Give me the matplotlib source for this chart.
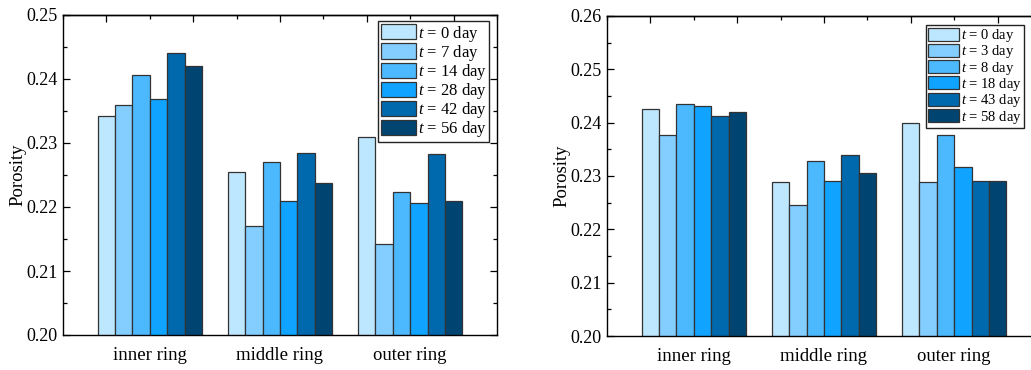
import matplotlib
matplotlib.use("Agg")
import matplotlib.pyplot as plt
from matplotlib.ticker import MultipleLocator
import numpy as np

plt.rcParams['font.family'] = ['Liberation Serif', 'DejaVu Serif']
plt.rcParams['mathtext.fontset'] = 'custom'
plt.rcParams['mathtext.rm'] = 'Liberation Serif'
plt.rcParams['mathtext.it'] = 'Liberation Serif:italic'

categories = ['inner ring', 'middle ring', 'outer ring']

left_labels = ['0', '7', '14', '28', '42', '56']
left_values = [
    [0.2342, 0.2254, 0.2309],   # t = 0
    [0.2359, 0.2170, 0.2142],   # t = 7
    [0.2407, 0.2270, 0.2223],   # t = 14
    [0.2369, 0.2210, 0.2207],   # t = 28
    [0.2441, 0.2284, 0.2283],   # t = 42
    [0.2421, 0.2237, 0.2209],   # t = 56
]

right_labels = ['0', '3', '8', '18', '43', '58']
right_values = [
    [0.2425, 0.2288, 0.2399],   # t = 0
    [0.2377, 0.2245, 0.2288],   # t = 3
    [0.2435, 0.2329, 0.2377],   # t = 8
    [0.2431, 0.2290, 0.2317],   # t = 18
    [0.2413, 0.2340, 0.2290],   # t = 43
    [0.2420, 0.2306, 0.2291],   # t = 58
]

colors = ['#bde6ff', '#84cdff', '#4cb9ff', '#10a3ff', '#0068ac', '#004572']

W, H = 1031, 370
fig = plt.figure(figsize=(W / 100, H / 100), dpi=100)

def px_axes(x0, y_top, w, h):
    return fig.add_axes([x0 / W, (H - y_top - h) / H, w / W, h / H])

ax1 = px_axes(63, 15, 434, 320)
ax2 = px_axes(607, 16, 434, 320)

def draw(ax, values, labels, ylim, leg_anchor, leg_fs, leg_hl, leg_hh, leg_ls, ylabelpad):
    x = np.arange(1, len(categories) + 1)
    n = len(values)
    w = 0.8 / n
    for i, (vals, lab) in enumerate(zip(values, labels)):
        ax.bar(x + (i - (n - 1) / 2) * w, vals, width=w, color=colors[i],
               edgecolor='#333333', linewidth=0.9, label=f'$t$ = {lab} day', zorder=2)
    ax.set_xlim(1 / 3, 11 / 3)
    ax.set_ylim(*ylim)
    ax.set_xticks(x)
    ax.set_xticklabels(categories, fontsize=13.5)
    ax.tick_params(axis='x', which='both', bottom=False, top=False, pad=5)
    ax.yaxis.set_major_locator(MultipleLocator(0.01))
    ax.yaxis.set_minor_locator(MultipleLocator(0.005))
    ax.yaxis.set_major_formatter(matplotlib.ticker.FormatStrFormatter('%.2f'))
    ax.tick_params(axis='y', which='major', direction='in', left=True, right=True,
                   length=5, width=0.9, labelsize=13, pad=4)
    ax.tick_params(axis='y', which='minor', direction='in', left=True, right=True,
                   length=3, width=0.9)
    sec = ax.secondary_xaxis('top')
    sec.xaxis.set_major_locator(MultipleLocator(2 / 3))
    sec.xaxis.set_minor_locator(MultipleLocator(1 / 3))
    sec.tick_params(axis='x', which='major', direction='in', length=5, width=0.9, labeltop=False)
    sec.tick_params(axis='x', which='minor', direction='in', length=3, width=0.9)
    sec.set_xticklabels([])
    sec.spines['top'].set_linewidth(1.0)
    for s in ax.spines.values():
        s.set_linewidth(1.0)
    ax.set_ylabel('Porosity', fontsize=13.5, labelpad=ylabelpad)
    leg = ax.legend(loc='upper right', bbox_to_anchor=leg_anchor, borderaxespad=0,
                    fontsize=leg_fs, handlelength=leg_hl, handleheight=leg_hh,
                    labelspacing=leg_ls, handletextpad=0.12, borderpad=0.15,
                    fancybox=False, framealpha=1, edgecolor='#222222')
    leg.get_frame().set_linewidth(1.0)

draw(ax1, left_values, left_labels, (0.20, 0.25), (0.982, 0.981), 12, 2.1, 1.02, -0.05, 0)
draw(ax2, right_values, right_labels, (0.20, 0.26), (0.961, 0.972), 10.5, 2.1, 1.0, -0.05, 0)

fig.savefig('out.png', dpi=100)
